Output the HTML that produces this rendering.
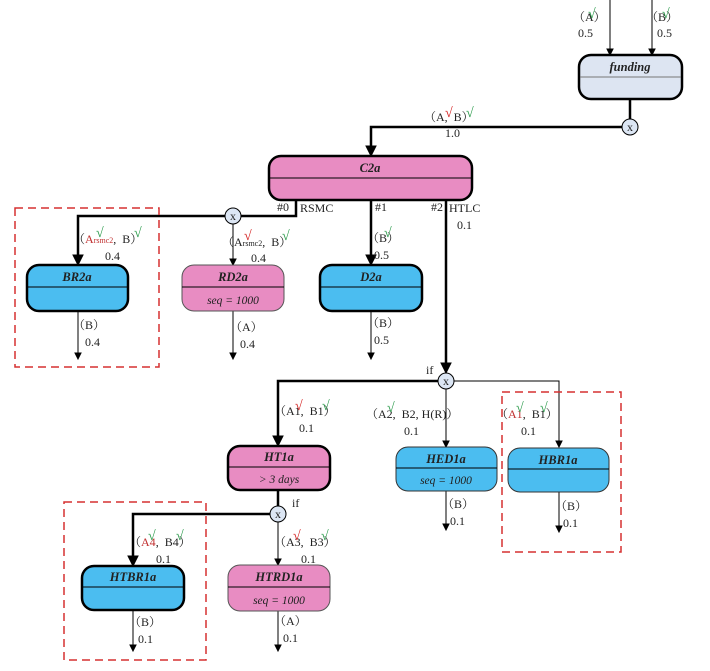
<!DOCTYPE html>
<html><head><meta charset="utf-8"><style>
html,body{margin:0;padding:0;background:#fff;}
svg text{font-family:"Liberation Serif","Noto Serif CJK SC",serif;font-size:12px;fill:#222;}
.t{font-weight:bold;font-style:italic;font-size:12.5px;}
.s{font-style:italic;font-size:11.5px;}
.g{fill:#2a9a4a;font-weight:bold;font-size:14px;}
.r{fill:#d42020;font-weight:bold;font-size:14px;}
.rt{fill:#c03030;}
</style></head><body>
<svg width="710" height="666" viewBox="0 0 710 666" xmlns="http://www.w3.org/2000/svg">
<g stroke="#000" fill="none">
<line x1="610" y1="0" x2="610" y2="50" stroke-width="1"/><path d="M607,49 L613,49 L610,55 z" fill="#000"/>
<line x1="652" y1="0" x2="652" y2="50" stroke-width="1"/><path d="M649,49 L655,49 L652,55 z" fill="#000"/>
<line x1="630" y1="99" x2="630" y2="119" stroke-width="2.5"/>
<polyline points="622,127 371,127 371,148" stroke-width="2.5"/><path d="M366,146 L376,146 L371,156 z" fill="#000"/>
<polyline points="296,200 296,216 241,216" stroke-width="2.5"/>
<polyline points="225,216 78,216 78,257" stroke-width="2.5"/><path d="M73,255 L83,255 L78,265 z" fill="#000"/>
<line x1="233" y1="224" x2="233" y2="260" stroke-width="1"/><path d="M230,259 L236,259 L233,265 z" fill="#000"/>
<line x1="371" y1="200" x2="371" y2="257" stroke-width="2.5"/><path d="M366,255 L376,255 L371,265 z" fill="#000"/>
<line x1="446" y1="200" x2="446" y2="365" stroke-width="2.5"/><path d="M441,363 L451,363 L446,373 z" fill="#000"/>
<line x1="78" y1="311" x2="78" y2="354" stroke-width="1"/><path d="M75,353 L81,353 L78,359 z" fill="#000"/>
<line x1="233" y1="311" x2="233" y2="354" stroke-width="1"/><path d="M230,353 L236,353 L233,359 z" fill="#000"/>
<line x1="371" y1="311" x2="371" y2="354" stroke-width="1"/><path d="M368,353 L374,353 L371,359 z" fill="#000"/>
<polyline points="438,381 278,381 278,438" stroke-width="2.5"/><path d="M273,436 L283,436 L278,446 z" fill="#000"/>
<polyline points="454,381 559,381 559,442" stroke-width="1"/><path d="M556,441 L562,441 L559,447 z" fill="#000"/>
<line x1="446" y1="389" x2="446" y2="442" stroke-width="1"/><path d="M443,441 L449,441 L446,447 z" fill="#000"/>
<line x1="446" y1="491" x2="446" y2="525" stroke-width="1"/><path d="M443,524 L449,524 L446,530 z" fill="#000"/>
<line x1="559" y1="492" x2="559" y2="527" stroke-width="1"/><path d="M556,526 L562,526 L559,532 z" fill="#000"/>
<line x1="278" y1="490" x2="278" y2="506" stroke-width="2.5"/>
<polyline points="270,514 133,514 133,558" stroke-width="2.5"/><path d="M128,556 L138,556 L133,566 z" fill="#000"/>
<line x1="278" y1="522" x2="278" y2="560" stroke-width="1"/><path d="M275,559 L281,559 L278,565 z" fill="#000"/>
<line x1="133" y1="610" x2="133" y2="646" stroke-width="1"/><path d="M130,645 L136,645 L133,651 z" fill="#000"/>
<line x1="278" y1="611" x2="278" y2="646" stroke-width="1"/><path d="M275,645 L281,645 L278,651 z" fill="#000"/>
<circle cx="630" cy="127" r="8" fill="#dce6f4" stroke-width="1"/>
<circle cx="233" cy="216" r="8" fill="#dce6f4" stroke-width="1"/>
<circle cx="446" cy="381" r="8" fill="#dce6f4" stroke-width="1"/>
<circle cx="278" cy="514" r="8" fill="#dce6f4" stroke-width="1"/>
<rect x="15" y="208" width="144" height="159" stroke="#d63030" stroke-width="1.5" stroke-dasharray="8,5"/>
<rect x="502" y="392" width="119" height="160" stroke="#d63030" stroke-width="1.5" stroke-dasharray="8,5"/>
<rect x="64" y="502" width="142" height="158" stroke="#d63030" stroke-width="1.5" stroke-dasharray="8,5"/>
<rect x="579" y="55" width="103" height="44" rx="12" fill="#dde5f2" stroke-width="2.5"/><line x1="580" y1="77" x2="681" y2="77" stroke="#777" stroke-width="1"/>
<rect x="269" y="156" width="203" height="44" rx="12" fill="#e88cc2" stroke-width="2.5"/><line x1="270" y1="178" x2="471" y2="178" stroke-width="1"/>
<rect x="27" y="265" width="101" height="46" rx="12" fill="#4bbdf0" stroke-width="2.5"/><line x1="28" y1="287" x2="127" y2="287" stroke-width="1"/>
<rect x="182" y="265" width="102" height="46" rx="12" fill="#e88cc2" stroke="#555" stroke-width="1"/><line x1="182" y1="287" x2="284" y2="287" stroke-width="1"/>
<rect x="320" y="265" width="102" height="46" rx="12" fill="#4bbdf0" stroke-width="2.5"/><line x1="321" y1="287" x2="421" y2="287" stroke-width="1"/>
<rect x="228" y="446" width="102" height="44" rx="12" fill="#e88cc2" stroke-width="2.5"/><line x1="229" y1="467" x2="329" y2="467" stroke-width="1"/>
<rect x="396" y="447" width="101" height="44" rx="12" fill="#4bbdf0" stroke="#333" stroke-width="1"/><line x1="396" y1="468" x2="497" y2="468" stroke-width="1"/>
<rect x="508" y="448" width="101" height="44" rx="12" fill="#4bbdf0" stroke="#333" stroke-width="1"/><line x1="508" y1="469" x2="609" y2="469" stroke-width="1"/>
<rect x="82" y="566" width="102" height="44" rx="12" fill="#4bbdf0" stroke-width="2.5"/><line x1="83" y1="587" x2="183" y2="587" stroke-width="1"/>
<rect x="228" y="565" width="102" height="46" rx="12" fill="#e88cc2" stroke="#555" stroke-width="1"/><line x1="228" y1="587" x2="330" y2="587" stroke-width="1"/>
</g>
<g text-anchor="middle">
<text x="630" y="71" class="t">funding</text>
<text x="370" y="172" class="t">C2a</text>
<text x="77" y="281" class="t">BR2a</text>
<text x="233" y="281" class="t">RD2a</text><text x="233" y="304" class="s">seq = 1000</text>
<text x="371" y="281" class="t">D2a</text>
<text x="279" y="461" class="t">HT1a</text><text x="279" y="483" class="s">&gt; 3 days</text>
<text x="446" y="463" class="t">HED1a</text><text x="446" y="484" class="s">seq = 1000</text>
<text x="558" y="464" class="t">HBR1a</text>
<text x="133" y="581" class="t">HTBR1a</text>
<text x="279" y="581" class="t">HTRD1a</text><text x="279" y="604" class="s">seq = 1000</text>
<text x="630" y="131" font-size="10">x</text><text x="233" y="220" font-size="10">x</text>
<text x="446" y="385" font-size="10">x</text><text x="278" y="518" font-size="10">x</text>
</g>
<text x="573" y="21">（A）</text><text x="588" y="18" class="g">√</text><text x="578" y="37">0.5</text>
<text x="646" y="21">（B）</text><text x="662" y="18" class="g">√</text><text x="657" y="37">0.5</text>
<text x="424" y="121">（A,&#160;&#160;B）</text><text x="445" y="117" class="r">√</text><text x="466" y="117" class="g">√</text><text x="445" y="137">1.0</text>
<text x="277" y="211">#0</text><text x="300" y="212">RSMC</text>
<text x="375" y="211">#1</text><text x="431" y="211">#2</text><text x="449" y="212">HTLC</text><text x="457" y="229">0.1</text>
<text x="73" y="243">（<tspan class="rt">A<tspan font-size="8">rsmc2</tspan></tspan>,&#160;&#160;B）</text><text x="96" y="237" class="g">√</text><text x="134" y="237" class="g">√</text><text x="105" y="260">0.4</text>
<text x="222" y="246">（A<tspan font-size="8">rsmc2</tspan>,&#160;&#160;B）</text><text x="244" y="240" class="r">√</text><text x="282" y="240" class="g">√</text><text x="251" y="262">0.4</text>
<text x="367" y="242">（B）</text><text x="384" y="237" class="g">√</text><text x="374" y="259">0.5</text>
<text x="73" y="329">（B）</text><text x="85" y="346">0.4</text>
<text x="230" y="331">（A）</text><text x="240" y="348">0.4</text>
<text x="367" y="327">（B）</text><text x="374" y="344">0.5</text>
<text x="426" y="374">if</text>
<text x="274" y="415">（A1,&#160;&#160;B1）</text><text x="295" y="410" class="r">√</text><text x="322" y="410" class="g">√</text><text x="299" y="432">0.1</text>
<text x="366" y="418">（A2,&#160;&#160;B2, H(R)）</text><text x="387" y="412" class="g">√</text><text x="404" y="435">0.1</text>
<text x="496" y="418">（<tspan class="rt">A1</tspan>,&#160;&#160;B1）</text><text x="516" y="412" class="g">√</text><text x="540" y="412" class="g">√</text><text x="521" y="435">0.1</text>
<text x="442" y="508">（B）</text><text x="450" y="525">0.1</text>
<text x="555" y="510">（B）</text><text x="563" y="527">0.1</text>
<text x="292" y="507">if</text>
<text x="129" y="546">（<tspan class="rt">A4</tspan>,&#160;&#160;B4）</text><text x="148" y="540" class="g">√</text><text x="176" y="540" class="g">√</text><text x="156" y="563">0.1</text>
<text x="274" y="546">（A3,&#160;&#160;B3）</text><text x="293" y="540" class="r">√</text><text x="321" y="540" class="g">√</text><text x="301" y="563">0.1</text>
<text x="129" y="626">（B）</text><text x="138" y="643">0.1</text>
<text x="274" y="625">（A）</text><text x="283" y="642">0.1</text>
</svg>
</body></html>
